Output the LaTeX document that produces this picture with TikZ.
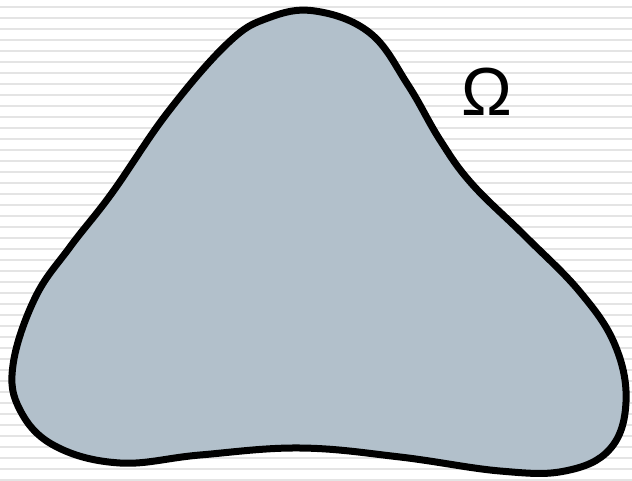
\documentclass[tikz,border=0pt]{standalone}
\usepackage{fontspec}
\setmainfont{Liberation Sans}
\definecolor{regionfill}{RGB}{178,192,203}
\definecolor{stripe}{RGB}{228,228,228}
\begin{document}
\begin{tikzpicture}[x=1pt,y=-1pt,
  stripeline/.style={draw=stripe,line width=2.6pt},
  region/.style={fill=regionfill,draw=black,line width=7pt,line join=round}]
\useasboundingbox (0,0) rectangle (632,481);
\fill[white] (0,0) rectangle (632,481);
\foreach \k in {0,...,43}{
  \draw[stripeline] (0,{7+11*\k}) -- (632,{7+11*\k});
}
\draw[region] plot[smooth cycle,tension=0.65] coordinates {
 (315,11) (370,33) (408,85) (440,140) (472,184) (525,236) (580,292)
 (615,345) (626,402) (610,449) (565,471) (500,471) (400,457) (300,448)
 (200,455) (120,463) (55,446) (20,410) (13,365) (35,298) (70,247)
 (112,193) (168,112) (228,43) (268,18)};
\node (omega) at (487,92) {\fontsize{68}{70}\selectfont Ω};
\end{tikzpicture}
\end{document}
